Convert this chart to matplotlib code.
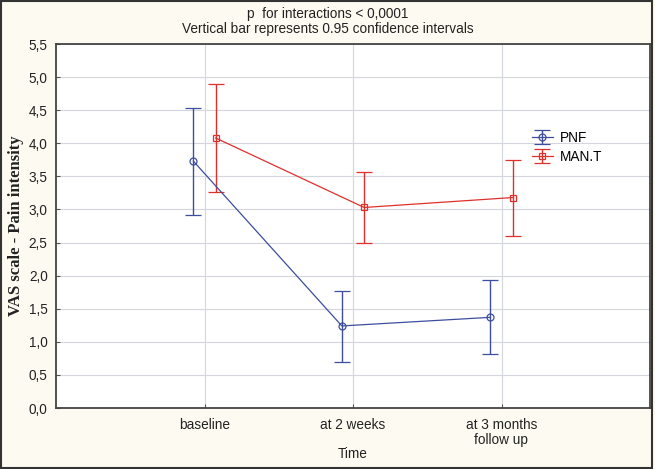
import matplotlib
matplotlib.use("Agg")
import matplotlib.pyplot as plt
from matplotlib.patches import Rectangle

# Data
time_points = ["baseline", "at 2 weeks", "at 3 months\nfollow up"]
pnf_mean = [3.73, 1.24, 1.37]
pnf_lower = [2.91, 0.69, 0.81]
pnf_upper = [4.53, 1.77, 1.94]
mant_mean = [4.08, 3.03, 3.18]
mant_lower = [3.26, 2.49, 2.60]
mant_upper = [4.89, 3.57, 3.74]
y_ticks = [0.0, 0.5, 1.0, 1.5, 2.0, 2.5, 3.0, 3.5, 4.0, 4.5, 5.0, 5.5]

BG = "#fdfbf1"
BLUE = "#3d4e9e"
RED = "#e0302c"
TXT = "#222222"
W, H = 655, 469
FS = 9.8

plt.rcParams["font.family"] = ["Liberation Sans", "DejaVu Sans"]

fig = plt.figure(figsize=(W / 100, H / 100), dpi=100, facecolor=BG)
ax = fig.add_axes([56 / W, 1 - 408 / H, (650 - 56) / W, (408 - 44) / H])
ax.set_facecolor("white")

x = list(range(len(time_points)))
off = 0.075
x_pnf = [v - off for v in x]
x_mant = [v + off for v in x]

pnf_err = [[m - l for m, l in zip(pnf_mean, pnf_lower)],
           [u - m for m, u in zip(pnf_mean, pnf_upper)]]
mant_err = [[m - l for m, l in zip(mant_mean, mant_lower)],
            [u - m for m, u in zip(mant_mean, mant_upper)]]

ax.errorbar(x_pnf, pnf_mean, yerr=pnf_err, color=BLUE, lw=0.9, elinewidth=1.0,
            capsize=5.5, capthick=1.0, marker="o", ms=5, mfc="none", mec=BLUE,
            mew=0.9, label="PNF", zorder=3)
ax.errorbar(x_mant, mant_mean, yerr=mant_err, color=RED, lw=0.9, elinewidth=1.0,
            capsize=5.5, capthick=1.0, marker="s", ms=5, mfc="none", mec=RED,
            mew=0.9, label="MAN.T", zorder=3)

ax.set_xlim(-1, 3)
ax.set_ylim(0, 5.5)
ax.set_xticks(x)
ax.set_xticklabels(time_points, fontsize=FS, color=TXT, linespacing=1.15)
ax.set_yticks(y_ticks)
ax.set_yticklabels([f"{v:.1f}".replace(".", ",") for v in y_ticks],
                   fontsize=FS, color=TXT)
ax.tick_params(direction="in", length=3, width=0.8, color="#555555", pad=6)
ax.tick_params(axis="x", pad=7)
ax.grid(True, color="#d4d6de", lw=0.8)
ax.set_axisbelow(True)
for s in ax.spines.values():
    s.set_color("#444444")
    s.set_linewidth(1.3)

ax.set_xlabel("Time", fontsize=FS, color=TXT, labelpad=0)
ax.set_ylabel("VAS scale - Pain intensity", fontsize=12, fontweight="bold",
              family="Liberation Serif", color=TXT, labelpad=3)

fig.text(0.5, 1 - 14 / H, "p  for interactions < 0,0001", ha="center",
         va="center", fontsize=FS, color=TXT)
fig.text(0.5, 1 - 28.5 / H, "Vertical bar represents 0.95 confidence intervals",
         ha="center", va="center", fontsize=FS, color=TXT)

leg = ax.legend(loc="upper left", bbox_to_anchor=(0.78, 0.795), frameon=False,
                fontsize=FS, handlelength=1.6, handletextpad=0.5,
                labelspacing=0.35)

# outer frame around the whole figure
fig.patches.append(Rectangle((0.002, 0.003), 0.994, 0.994, transform=fig.transFigure,
                             fill=False, ec="#333333", lw=1.5))

fig.savefig("out.png", dpi=100, facecolor=BG)
